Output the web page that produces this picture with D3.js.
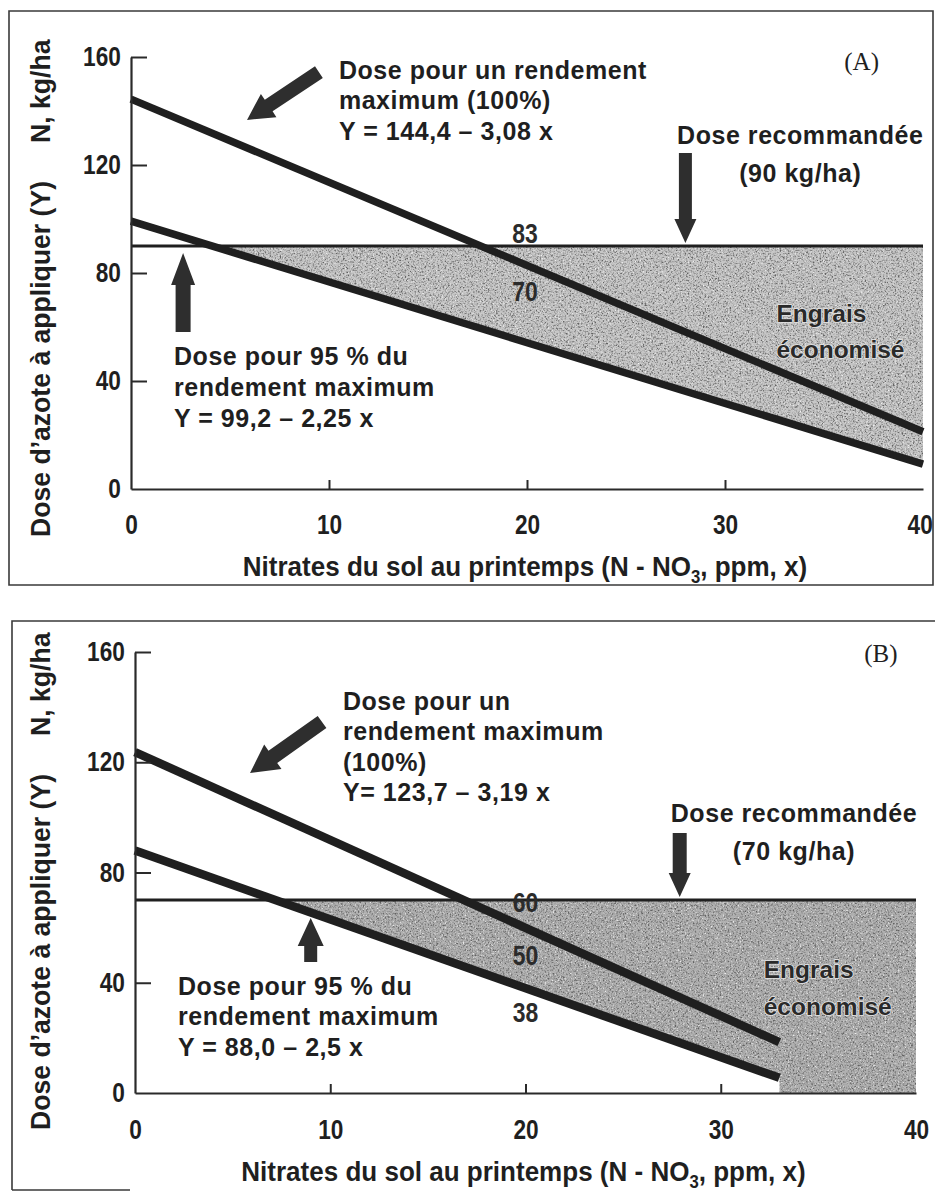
<!DOCTYPE html>
<html>
<head>
<meta charset="utf-8">
<script src="https://cdn.jsdelivr.net/npm/d3@7"></script>
<style>
  html, body { margin: 0; padding: 0; background: #fff; }
  svg { display: block; }
</style>
</head>
<body>
<svg id="fig" width="935" height="1195">
  <defs>
    <!-- halftone-like speckle for the shaded band -->
    <filter id="grain" x="0" y="0" width="100%" height="100%">
      <feTurbulence type="fractalNoise" baseFrequency="0.6" numOctaves="2" seed="7" result="noise"/>
      <feColorMatrix in="noise" type="matrix"
        values="0 0 0 0 0.12  0 0 0 0 0.12  0 0 0 0 0.12  3.2 0 0 0 -1.45" result="dark"/>
      <feColorMatrix in="noise" type="matrix"
        values="0 0 0 0 0.97  0 0 0 0 0.97  0 0 0 0 0.97  0 -3.0 0 0 1.2" result="light"/>
      <feMerge result="merged">
        <feMergeNode in="SourceGraphic"/>
        <feMergeNode in="dark"/>
        <feMergeNode in="light"/>
      </feMerge>
      <feComposite in="merged" in2="SourceAlpha" operator="in"/>
    </filter>
  </defs>
</svg>
<script>
// Nitrogen dose to apply (Y) against spring soil nitrate (x), two sites (A) and (B)

const panels = ["(A)", "(B)"];
const xTicks = [0, 10, 20, 30, 40];
const yTicks = [0, 40, 80, 120, 160];

// Regression lines Y = a - b x
const maxYieldIntercept = [144.4, 123.7];
const maxYieldSlope = [3.08, 3.19];
const yield95Intercept = [99.2, 88.0];
const yield95Slope = [2.25, 2.5];

// Recommended dose, kg/ha
const recommendedDose = [90, 70];

// Last soil nitrate value reached by the regression lines
const lineEndX = [40, 33];

// Figures printed inside the saved-fertilizer band
const bandLabels = [["83", "70"], ["60", "50", "38"]];

// Annotation texts
const maxYieldText = [
  ["Dose pour un rendement", "maximum (100%)", "Y = 144,4 \u2013 3,08 x"],
  ["Dose pour un", "rendement maximum", "(100%)", "Y= 123,7 \u2013 3,19 x"]
];
const yield95Text = [
  ["Dose pour 95 % du", "rendement maximum", "Y = 99,2 \u2013 2,25 x"],
  ["Dose pour 95 % du", "rendement maximum", "Y = 88,0 \u2013 2,5 x"]
];
const recText = [
  ["Dose recommand\u00e9e", "(90 kg/ha)"],
  ["Dose recommand\u00e9e", "(70 kg/ha)"]
];
const savedText = ["Engrais", "\u00e9conomis\u00e9"];

// ---------- layout (pixels and chart-unit anchors) ----------
const layout = [
  {
    xRange: [131, 923], yRange: [489, 57],
    frame: "M9,11 H933 V585 H9 Z",
    shade: "#c6c6c6", lineW: 7.5,
    tickPad: 26, xLabelBase: 576, yTitleStart: 537,
    panelLabel: [36.9, 155.2],
    maxBlock: { at: [10.5, 151.9], lh: 30.5 },
    recBlock: { at: [33.8, 127.8], lh: 38 },
    lowBlock: { at: [2.17, 45.9], lh: 31 },
    band: [[19.9, 94.8], [19.9, 73.3]],
    saved: { at: [32.6, 61.9], lh: 36 },
    arrows: [
      { tail: [9.49, 154.4], tip: [5.86, 136.7], shaft: 14, headW: 28, headL: 26 },
      { tail: [28.0, 124.4], tip: "rec", shaft: 13, headW: 22, headL: 24 },
      { tail: [2.63, 58.1], tip: [2.63, 87.4], shaft: 15, headW: 24, headL: 32 }
    ]
  },
  {
    xRange: [135, 916], yRange: [1093, 652],
    frame: "M12,1190 V621 H935 M12,1190 H130",
    shade: "#b0b0b0", lineW: 8.5,
    tickPad: 27, xLabelBase: 1181, yTitleStart: 1130,
    panelLabel: [38.2, 156.4],
    maxBlock: { at: [10.65, 139.0], lh: 30.5 },
    recBlock: { at: [33.75, 98.3], lh: 38 },
    lowBlock: { at: [2.2, 35.6], lh: 30.5 },
    band: [[20, 69.3], [20, 50.1], [20, 29.4]],
    saved: { at: [32.2, 41.7], lh: 37 },
    arrows: [
      { tail: [9.58, 134.6], tip: [5.89, 116.1], shaft: 15, headW: 30, headL: 28 },
      { tail: [27.9, 94.3], tip: "rec", shaft: 14, headW: 22, headL: 24 },
      { tail: [9.0, 47.5], tip: [9.0, 63.5], shaft: 13, headW: 26, headL: 28 }
    ]
  }
];

const FONT = "'Liberation Sans', Arial, Helvetica, sans-serif";
const INK = "#1f1f1f";

const svg = d3.select("#fig");

function arrowPath(t, h, shaft, headW, headL) {
  const dx = h[0] - t[0], dy = h[1] - t[1], len = Math.hypot(dx, dy);
  const ux = dx / len, uy = dy / len, px = -uy, py = ux;
  const bx = h[0] - ux * headL, by = h[1] - uy * headL;
  const pts = [
    [t[0] + px * shaft / 2, t[1] + py * shaft / 2],
    [bx + px * shaft / 2, by + py * shaft / 2],
    [bx + px * headW / 2, by + py * headW / 2],
    [h[0], h[1]],
    [bx - px * headW / 2, by - py * headW / 2],
    [bx - px * shaft / 2, by - py * shaft / 2],
    [t[0] - px * shaft / 2, t[1] - py * shaft / 2]
  ];
  return "M" + pts.map(p => p[0].toFixed(1) + "," + p[1].toFixed(1)).join("L") + "Z";
}

function textBlock(g, lines, px, py, lh, anchor) {
  const t = g.append("text")
    .attr("x", px).attr("y", py)
    .attr("text-anchor", anchor)
    .attr("font-family", FONT)
    .attr("font-weight", "bold")
    .attr("font-size", 25)
    .attr("letter-spacing", 0.55)
    .attr("fill", INK);
  lines.forEach((s, k) => {
    t.append("tspan").attr("x", px).attr("y", py + k * lh).text(s);
  });
  return t;
}

panels.forEach((name, i) => {
  const L = layout[i];
  const x = d3.scaleLinear().domain([0, 40]).range(L.xRange);
  const y = d3.scaleLinear().domain([0, 160]).range(L.yRange);
  const g = svg.append("g");

  const rec = recommendedDose[i];
  const lo = v => yield95Intercept[i] - yield95Slope[i] * v;
  const hi = v => maxYieldIntercept[i] - maxYieldSlope[i] * v;
  const xe = lineEndX[i];

  // frame
  g.append("path").attr("d", L.frame)
    .attr("fill", "none").attr("stroke", "#3a3a3a").attr("stroke-width", 1.6);

  // band of saved fertilizer: between the recommended dose and the 95 % line
  const xStart = Math.max(0, (yield95Intercept[i] - rec) / yield95Slope[i]);
  const bandPts = [
    { x: xStart, top: rec, bot: lo(xStart) },
    { x: xe, top: rec, bot: lo(xe) }
  ];
  if (xe < 40) {
    bandPts.push({ x: xe, top: rec, bot: 0 }, { x: 40, top: rec, bot: 0 });
  }
  g.append("path")
    .attr("d", d3.area().x(d => x(d.x)).y0(d => y(d.top)).y1(d => y(d.bot))(bandPts))
    .attr("fill", L.shade)
    .attr("filter", "url(#grain)");

  // recommended dose line
  g.append("path")
    .attr("d", d3.line().x(d => x(d)).y(() => y(rec))([0, 40]))
    .attr("stroke", INK).attr("stroke-width", 3).attr("fill", "none");

  // regression lines
  const line = d3.line().x(d => x(d[0])).y(d => y(d[1]));
  [hi, lo].forEach(f => {
    g.append("path")
      .attr("d", line([[0, f(0)], [xe, f(xe)]]))
      .attr("stroke", INK).attr("stroke-width", L.lineW)
      .attr("fill", "none").attr("stroke-linecap", "butt");
  });

  // axes
  const yAxis = g.append("g")
    .attr("transform", `translate(${x(0)},0)`)
    .call(d3.axisLeft(y).tickValues(yTicks).tickSizeInner(-16).tickSizeOuter(0).tickPadding(12));
  const xAxis = g.append("g")
    .attr("transform", `translate(0,${y(0)})`)
    .call(d3.axisBottom(x).tickValues(xTicks).tickSizeInner(-9).tickSizeOuter(0).tickPadding(L.tickPad));
  [yAxis, xAxis].forEach(a => {
    a.select(".domain").attr("stroke", "#2a2a2a").attr("stroke-width", 2.2);
    a.selectAll(".tick line").attr("stroke", "#2a2a2a").attr("stroke-width", 2);
    a.selectAll(".tick text")
      .attr("font-family", FONT).attr("font-weight", "bold")
      .attr("font-size", 27).attr("fill", INK)
      .attr("transform", "scale(0.84,1)");
  });
  xAxis.selectAll(".tick").filter(d => d === 0 || d === 40).select("line").remove();
  yAxis.selectAll(".tick").filter(d => d === 0).select("line").remove();
  // keep the last x label inside the frame
  xAxis.selectAll(".tick text").filter(d => d === 40).attr("dx", i === 0 ? -4 : 0);

  // axis titles
  const xt = g.append("text")
    .attr("transform", `translate(${(L.xRange[0] + L.xRange[1]) / 2 - 2},${L.xLabelBase}) scale(0.93,1)`)
    .attr("text-anchor", "middle")
    .attr("font-family", FONT).attr("font-weight", "bold")
    .attr("font-size", 28).attr("fill", INK);
  xt.append("tspan").text("Nitrates du sol au printemps (N - NO");
  xt.append("tspan").attr("font-size", 18).attr("dy", 7).text("3");
  xt.append("tspan").attr("dy", -7).text(", ppm, x)");

  const yt = g.append("text")
    .attr("transform", `translate(50,${L.yTitleStart}) rotate(-90) scale(0.95,1)`)
    .attr("text-anchor", "start")
    .attr("font-family", FONT).attr("font-weight", "bold")
    .attr("font-size", 28).attr("fill", INK);
  yt.append("tspan").text("Dose d\u2019azote \u00e0 appliquer (Y)");
  yt.append("tspan").attr("dx", 40).text("N, kg/ha");

  // panel letter
  g.append("text")
    .attr("x", x(L.panelLabel[0])).attr("y", y(L.panelLabel[1]))
    .attr("text-anchor", "middle")
    .attr("font-family", "'Liberation Serif', 'Times New Roman', serif")
    .attr("font-size", 25).attr("fill", INK)
    .text(name);

  // annotation blocks
  textBlock(g, maxYieldText[i], x(L.maxBlock.at[0]), y(L.maxBlock.at[1]), L.maxBlock.lh, "start");
  textBlock(g, recText[i], x(L.recBlock.at[0]), y(L.recBlock.at[1]), L.recBlock.lh, "middle");
  textBlock(g, yield95Text[i], x(L.lowBlock.at[0]), y(L.lowBlock.at[1]), L.lowBlock.lh, "start");

  // figures inside the band
  bandLabels[i].forEach((s, k) => {
    const pos = L.band[k];
    g.append("text")
      .attr("transform", `translate(${x(pos[0])},${y(pos[1])}) scale(0.85,1)`)
      .attr("dy", "0.36em")
      .attr("text-anchor", "middle")
      .attr("font-family", FONT).attr("font-weight", "bold")
      .attr("font-size", 27)
      .attr("fill", "#2b2b2b")
      .text(s);
  });

  // "Engrais économisé"
  const st = g.append("text")
    .attr("font-family", FONT).attr("font-weight", "bold")
    .attr("font-size", 24.5).attr("fill", "#2a2a2a")
    .attr("stroke", "#e4e4e4").attr("stroke-width", 1.6)
    .attr("paint-order", "stroke");
  savedText.forEach((s, k) => {
    st.append("tspan")
      .attr("x", x(L.saved.at[0]))
      .attr("y", y(L.saved.at[1]) + k * L.saved.lh)
      .text(s);
  });

  // arrows
  L.arrows.forEach(a => {
    const tail = [x(a.tail[0]), y(a.tail[1])];
    const tip = a.tip === "rec" ? [x(a.tail[0]), y(rec) - 3] : [x(a.tip[0]), y(a.tip[1])];
    g.append("path")
      .attr("d", arrowPath(tail, tip, a.shaft, a.headW, a.headL))
      .attr("fill", "#2e2e2e");
  });
});
</script>
</body>
</html>
